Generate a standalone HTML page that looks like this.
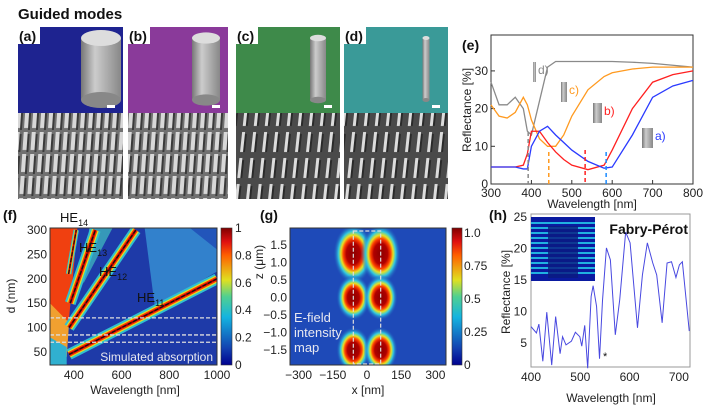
<!DOCTYPE html>
<html><head><meta charset="utf-8"><style>
body{margin:0;background:#fff;}
svg{display:block;font-family:"Liberation Sans",Arial,sans-serif;}
.t{font-size:12px;fill:#222}
.lab{font-size:14px;font-weight:bold;fill:#111}
</style></head><body>
<svg id="fig" width="710" height="413" viewBox="0 0 710 413">
<defs>
<linearGradient id="jet" x1="0" y1="1" x2="0" y2="0">
<stop offset="0" stop-color="#00008f"/><stop offset="0.12" stop-color="#1240b0"/><stop offset="0.35" stop-color="#14b4e0"/><stop offset="0.5" stop-color="#50d090"/><stop offset="0.62" stop-color="#e0e020"/><stop offset="0.8" stop-color="#ff6000"/><stop offset="0.9" stop-color="#e01010"/><stop offset="1" stop-color="#800000"/></linearGradient>
<linearGradient id="cyl" x1="0" x2="1"><stop offset="0" stop-color="#777"/><stop offset="0.35" stop-color="#ccc"/><stop offset="1" stop-color="#888"/></linearGradient>
<pattern id="sem" width="8" height="22" patternUnits="userSpaceOnUse" patternTransform="skewX(-4)"><rect width="8" height="22" fill="#707070"/><rect x="1" y="0" width="4" height="18" fill="#d8d8d8"/><rect x="5" y="2" width="2" height="18" fill="#3a3a3a"/></pattern>
<pattern id="sem2" width="11" height="26" patternUnits="userSpaceOnUse" patternTransform="skewX(-6)"><rect width="11" height="26" fill="#4a4a4a"/><rect x="3" y="2" width="3" height="20" fill="#dcdcdc"/><rect x="6" y="4" width="2" height="18" fill="#2a2a2a"/></pattern>
<radialGradient id="blob"><stop offset="0" stop-color="#8a0000"/><stop offset="0.35" stop-color="#b00000"/><stop offset="0.5" stop-color="#ff4000"/><stop offset="0.62" stop-color="#e8e020"/><stop offset="0.75" stop-color="#30c8e0"/><stop offset="1" stop-color="#1e4ab8" stop-opacity="0"/></radialGradient>
<clipPath id="clipf"><rect x="50" y="228" width="167" height="137"/></clipPath>
<clipPath id="clipg"><rect x="290" y="228" width="156" height="137"/></clipPath>
</defs>
<text x="18" y="19" style="font-size:15px;font-weight:bold" fill="#111">Guided modes</text>
<g id="photos"></g>
<g id="pe"></g>
<g id="pf"></g>
<g id="pg"></g>
<g id="ph"></g>
</svg>
<script>
// ---- Panel (e) data ----
const eWl=[300,320,340,360,380,390,400,420,440,460,480,500,540,580,600,650,700,750,800];
const eD=[27,21,21,23,20,14,13,22,31,32.5,32.5,32.5,32.5,32.5,32.5,32.3,32,31.5,31];
const eC=[21,18,17.5,19,23,21,17,12,10,10,13,18,25,28.5,29.5,30.5,31,31,31];
const eB=[4.5,4.5,4.5,4.5,5,8,14,14,11,8.5,6.5,5,3.8,5,9,20,27,29,30];
const eA=[4.5,4.5,4.5,4.5,4,4,10,14,15.3,13,11,9,6,4.2,4.5,13,23,26,27.5];
const eXTicks=[300,400,500,600,700,800];
const eYTicks=[0,10,20,30];
const eMarks=[392,443,533,585];
// ---- Panel (h) data ----
const hWl=[400,411,416,424,432,442,450,459,464,471,482,490,499,503,509,515,522,526,533,539,545,553,561,571,580,592,601,616,626,636,647,655,666,676,685,694,701,707,721];
const hR=[7.6,6.6,8,2.1,9.9,1.5,9.2,3.3,6,4.7,5.3,6.7,6,4.5,7.8,1,12.4,14.1,10.8,2.5,11.7,20.1,18.2,6.3,11.9,22.6,20.9,7.4,15.8,20.9,17.7,15.8,8.2,17.7,17.9,15.4,17.4,17.9,6.9];
const hXTicks=[400,500,600,700];
const hYTicks=[5,10,15,20,25];
// ---- Panel (f) mode lines (wavelength, d) ----
const fHE11=[[380,45],[1000,200]];
const fHE12=[[380,100],[660,300]];
const fHE13=[[385,150],[490,300]];
const fHE14=[[378,210],[410,300]];
const fXTicks=[400,600,800,1000];
const fYTicks=[50,100,150,200,250,300];
const cbTicks=["0","0.2","0.4","0.6","0.8","1"];
const gXTicks=[-300,-150,0,150,300];
const gYTicks=[1.5,1.0,0.5,0.0,-0.5,-1.0,-1.5];
const gLabels=["1.5","1.0","0.5","0.0","\u22120.5","\u22121.0","\u22121.5"];
const gcbTicks=["0","0.25","0.5","0.75","1.0"];

const NS="http://www.w3.org/2000/svg";
function el(p,tag,a,txt){const e=document.createElementNS(NS,tag);for(const k in a)e.setAttribute(k,a[k]);if(txt!==undefined)e.textContent=txt;p.appendChild(e);return e;}

// photos
const ph=document.getElementById('photos');
const photoX=[[18,123],[128,228],[236,340],[344,448]];
const cols=["#1e2390","#8a3a9a","#3e8a4a","#3a9a98"];
const cylW=[40,28,16,7];
const labs=["(a)","(b)","(c)","(d)"];
photoX.forEach((p,i)=>{
 const w=p[1]-p[0];
 let r=el(ph,'rect',{x:p[0],y:27,width:w,height:86,fill:cols[i]});
 
 
 let s=el(ph,'rect',{x:p[0],y:113,width:w,height:86,fill:i<2?'url(#sem)':'url(#sem2)'});
 
 
 const cx=p[1]-22, cw=cylW[i];
 el(ph,'rect',{x:cx-cw/2,y:38,width:cw,height:62,fill:'url(#cyl)'});
 el(ph,'ellipse',{cx:cx,cy:38,rx:cw/2,ry:Math.max(2,cw/5),fill:'#ddd'});
 el(ph,'ellipse',{cx:cx,cy:100,rx:cw/2,ry:Math.max(2,cw/5),fill:'#888'});
 el(ph,'rect',{x:p[1]-16,y:105,width:8,height:3,fill:'#fff'});
 el(ph,'rect',{x:p[0],y:27,width:22,height:17,fill:'#fff'});
 let t=el(ph,'text',{x:p[0]+1,y:41,class:'lab'},labs[i]);
 
 
});

// panel e
const pe=document.getElementById('pe');
const ex=w=>491+(w-300)/500*202, ey=v=>184-v*3.77;
el(pe,'text',{x:462,y:50,class:'lab'},'(e)');
el(pe,'rect',{x:491,y:35,width:202,height:149,fill:'none',stroke:'#333','stroke-width':1});
eXTicks.forEach(t=>{el(pe,'line',{x1:ex(t),x2:ex(t),y1:184,y2:180,stroke:'#333'});el(pe,'text',{x:ex(t),y:197,class:'t','text-anchor':'middle'},t);});
eYTicks.forEach(t=>{el(pe,'line',{x1:491,x2:495,y1:ey(t),y2:ey(t),stroke:'#333'});el(pe,'text',{x:488,y:ey(t)+4,class:'t','text-anchor':'end'},t);});
el(pe,'text',{x:592,y:208,class:'t','text-anchor':'middle','font-size':'13'},'Wavelength [nm]');
el(pe,'text',{x:0,y:0,class:'t','text-anchor':'middle',transform:'translate(471,110) rotate(-90)'},'Reflectance [%]');
const eSeries=[[eD,'#8a8a8a','d'],[eC,'#ff9a20','c'],[eB,'#ff2020','b'],[eA,'#2a3aff','a']];
eSeries.forEach(s=>{const pts=eWl.map((w,i)=>ex(w)+','+ey(s[0][i])).join(' ');
 const l=el(pe,'polyline',{points:pts,fill:'none',stroke:s[1],'stroke-width':1.3});
 
 });
const mc=['#888','#ff9a20','#ff2020','#1a8aff'];
eMarks.forEach((m,i)=>el(pe,'line',{x1:ex(m),x2:ex(m),y1:[132,152,150,152][i],y2:184,stroke:mc[i],'stroke-width':1.5,'stroke-dasharray':'4,3'}));
[[533,62,3,'d)','#888'],[561,82,6,'c)','#ff9a20'],[593,103,9,'b)','#ff2020'],[642,128,11,'a)','#2a3aff']].forEach(c=>{
 el(pe,'rect',{x:c[0],y:c[1],width:c[2],height:20,fill:'url(#cyl)'});
 el(pe,'text',{x:c[0]+c[2]+2,y:c[1]+12,'font-size':'12',fill:c[4]},c[3]);});

// panel f
const pf=document.getElementById('pf');
const fx=w=>50+(w-300)/700*167, fy=d=>230+(300-d)/250*122;
el(pf,'text',{x:3,y:220,class:'lab'},'(f)');
el(pf,'rect',{x:50,y:228,width:167,height:137,fill:'#1e3aa8'});
const fg=el(pf,'g',{'clip-path':'url(#clipf)'});
el(fg,'polygon',{points:[[fx(300),fy(330)],[fx(420),fy(330)],[fx(380),fy(120)],[fx(370),fy(40)],[fx(300),fy(40)]].join(' '),fill:'#f04010'});
el(fg,'polygon',{points:[[fx(300),fy(150)],[fx(380),fy(110)],[fx(370),fy(40)],[fx(300),fy(40)]].join(' '),fill:'#f0a030'});
el(fg,'polygon',{points:[[fx(300),fy(80)],[fx(370),fy(60)],[fx(370),fy(20)],[fx(300),fy(20)]].join(' '),fill:'#30b0d0'});
el(fg,'polygon',{points:[[fx(690),fy(330)],[fx(1000),fy(330)],[fx(1000),fy(215)],[fx(740),fy(140)]].join(' '),fill:'#3aa0dc',opacity:0.7});
el(fg,'polygon',{points:[[fx(820),fy(330)],[fx(1000),fy(330)],[fx(1000),fy(260)]].join(' '),fill:'#2050b8',opacity:0.9});
el(fg,'polygon',{points:[[fx(470),fy(330)],[fx(590),fy(330)],[fx(440),fy(190)]].join(' '),fill:'#40c0c0',opacity:0.7});
[fHE11,fHE12,fHE13,fHE14].forEach((m,i)=>{
 const a={x1:fx(m[0][0]),y1:fy(m[0][1]),x2:fx(m[1][0]),y2:fy(m[1][1])};
 [[11,'#30c0d0'],[7,'#e0e020'],[4.5,'#ff3000'],[2,'#a00000']].forEach(s=>el(fg,'line',Object.assign({stroke:s[1],'stroke-width':i==3?s[0]/2:s[0]},a)));
 const l=el(fg,'line',Object.assign({stroke:'#111','stroke-width':1.2,'stroke-dasharray':'4,2'},a));
 
 });
[120,85,70].forEach(d=>el(fg,'line',{x1:50,x2:217,y1:fy(d),y2:fy(d),stroke:'#ddd','stroke-width':1.3,'stroke-dasharray':'4,2'}));
el(pf,'text',{x:213,y:361,'font-size':'12',fill:'#e8e8f0','text-anchor':'end'},'Simulated absorption');
[['HE','14',60,222],['HE','13',79,252],['HE','12',99,276],['HE','11',137,302]].forEach(h=>{const t=el(pf,'text',{x:h[2],y:h[3],'font-size':'13',fill:'#111'},h[0]);el(t,'tspan',{'font-size':'9',dy:'4'},h[1]);});
el(pf,'rect',{x:50,y:228,width:167,height:137,fill:'none',stroke:'#333'});
fXTicks.forEach(t=>el(pf,'text',{x:fx(t),y:379,class:'t','text-anchor':'middle'},t));
fYTicks.forEach(t=>el(pf,'text',{x:47,y:fy(t)+4,class:'t','text-anchor':'end'},t));
el(pf,'text',{x:135,y:394,class:'t','text-anchor':'middle','font-size':'13'},'Wavelength [nm]');
el(pf,'text',{x:0,y:0,class:'t','text-anchor':'middle','font-size':'13',transform:'translate(15,296) rotate(-90)'},'d (nm)');
el(pf,'rect',{x:221,y:228,width:11,height:137,fill:'url(#jet)',stroke:'#333','stroke-width':0.6});
cbTicks.forEach((t,i)=>el(pf,'text',{x:235,y:365-i*27.4+4,class:'t'},t));

// panel g
const pg=document.getElementById('pg');
const gx=v=>367+v*0.228, gy=z=>297.5-z*35;
el(pg,'text',{x:260,y:220,class:'lab'},'(g)');
el(pg,'rect',{x:290,y:228,width:156,height:137,fill:'#1e4ab8'});
const gg=el(pg,'g',{'clip-path':'url(#clipg)'});
[1.25,0,-1.5].forEach((z,k)=>[-60,60].forEach(x=>{
 const b=el(gg,'ellipse',{cx:gx(x),cy:gy(z),rx:k==0?20:17,ry:k==0?30:23,fill:'url(#blob)'});
 
 }));
el(gg,'rect',{x:gx(-60),y:gy(1.9),width:gx(60)-gx(-60),height:gy(-1.9)-gy(1.9),fill:'none',stroke:'#ddd','stroke-width':1.2,'stroke-dasharray':'4,2'});
[['E-field',322],['intensity',337],['map',352]].forEach(t=>el(pg,'text',{x:294,y:t[1],'font-size':'13',fill:'#e8e8f0'},t[0]));
el(pg,'rect',{x:290,y:228,width:156,height:137,fill:'none',stroke:'#333'});
gXTicks.forEach(t=>el(pg,'text',{x:gx(t),y:379,class:'t','text-anchor':'middle'},t<0?'\u2212'+(-t):t));
gYTicks.forEach((t,i)=>el(pg,'text',{x:287,y:gy(t)+4,class:'t','text-anchor':'end'},gLabels[i]));
el(pg,'text',{x:368,y:394,class:'t','text-anchor':'middle','font-size':'13'},'x [nm]');
el(pg,'text',{x:0,y:0,class:'t','text-anchor':'middle','font-size':'13',transform:'translate(263,262) rotate(-90)'},'z (\u03bcm)');
el(pg,'rect',{x:452,y:228,width:10,height:137,fill:'url(#jet)',stroke:'#333','stroke-width':0.6});
gcbTicks.forEach((t,i)=>el(pg,'text',{x:464,y:365-i*33+4,class:'t'},t));

// panel h
const phg=document.getElementById('ph');
const hx=w=>531+(w-400)*0.493, hy=v=>343-(v-5)*6.3;
el(phg,'text',{x:489,y:220,class:'lab'},'(h)');
el(phg,'rect',{x:531,y:214,width:159,height:153,fill:'#fff',stroke:'#999'});
hXTicks.forEach(t=>el(phg,'text',{x:hx(t),y:381,class:'t','text-anchor':'middle','font-size':'13'},t));
hYTicks.forEach(t=>el(phg,'text',{x:527,y:hy(t)+4,class:'t','text-anchor':'end','font-size':'13'},t));
const hl=el(phg,'polyline',{points:hWl.map((w,i)=>hx(w)+','+hy(hR[i])).join(' '),fill:'none',stroke:'#4848e0','stroke-width':1});


el(phg,'text',{x:hx(546),y:360,'font-size':'11',fill:'#111'},'*');
el(phg,'rect',{x:531,y:217,width:64,height:64,fill:'#0a1aa0'});
for(let i=0;i<11;i++){el(phg,'rect',{x:531,y:222+i*5,width:64,height:2,fill:'#20b0e0'});}
el(phg,'rect',{x:548,y:226,width:30,height:52,fill:'#0a1a80',opacity:0.8});
el(phg,'text',{x:688,y:234,'font-size':'14','font-weight':'bold',fill:'#111','text-anchor':'end'},'Fabry-Pérot');
el(phg,'text',{x:611,y:402,class:'t','text-anchor':'middle','font-size':'15'},'Wavelength [nm]');
el(phg,'text',{x:0,y:0,class:'t','text-anchor':'middle','font-size':'14',transform:'translate(510,292) rotate(-90)'},'Reflectance [%]');
</script>
</body></html>
